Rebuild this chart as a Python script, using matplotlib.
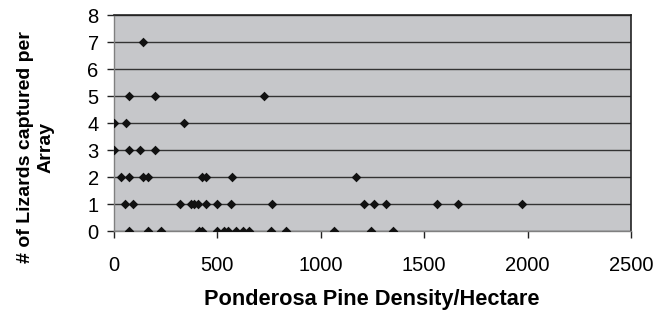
import matplotlib
matplotlib.use("Agg")
import matplotlib.pyplot as plt

# pine density per hectare and lizards captured
density = [
    139,
    74, 198, 727,
    2, 56, 338,
    2, 74, 124, 198,
    34, 74, 139, 163, 424, 443, 569, 1169,
    53, 90, 321, 374, 389, 406, 443, 500, 566, 764, 1207, 1259, 1314, 1563, 1665, 1971,
    74, 166, 227, 412, 427, 500, 534, 550, 588, 622, 654, 761, 832, 1065, 1241, 1348,
]
lizards = (
    [7]
    + [5] * 3
    + [4] * 3
    + [3] * 4
    + [2] * 8
    + [1] * 16
    + [0] * 16
)

x_ticks = [0, 500, 1000, 1500, 2000, 2500]
y_ticks = [0, 1, 2, 3, 4, 5, 6, 7, 8]

plt.rcParams["font.family"] = ["Liberation Sans", "DejaVu Sans"]

fig = plt.figure(figsize=(6.57, 3.14), dpi=100)
ax = fig.add_axes([0.1735, 0.2643, 0.7869, 0.6879])
ax.set_facecolor("#c6c7ca")

ax.scatter(density, lizards, marker="D", s=24, color="#111111", zorder=3, linewidths=0)

ax.set_xlim(0, 2500)
ax.set_ylim(0, 8)
ax.set_xticks(x_ticks)
ax.set_yticks(y_ticks)
ax.yaxis.grid(True, color="#333333", linewidth=1.0)
ax.set_axisbelow(True)

for side in ["top", "right"]:
    ax.spines[side].set_color("#222222")
    ax.spines[side].set_linewidth(1.2)
for side in ["left", "bottom"]:
    ax.spines[side].set_color("#808080")
    ax.spines[side].set_linewidth(1.0)

ax.tick_params(axis="both", labelsize=14.5, color="#222222", length=5, width=1)
ax.tick_params(axis="x", pad=13)
ax.tick_params(axis="y", pad=6)

fig.text(372 / 657, 1 - 300 / 314, "Ponderosa Pine Density/Hectare",
         fontsize=15.7, fontweight="bold", ha="center", va="center")
fig.text(36 / 657, 1 - 147 / 314, "# of Lizards captured per\nArray",
         fontsize=14, fontweight="bold", ha="center", va="center",
         rotation=90, multialignment="center", linespacing=1.25)

fig.savefig("out.png", dpi=100)
